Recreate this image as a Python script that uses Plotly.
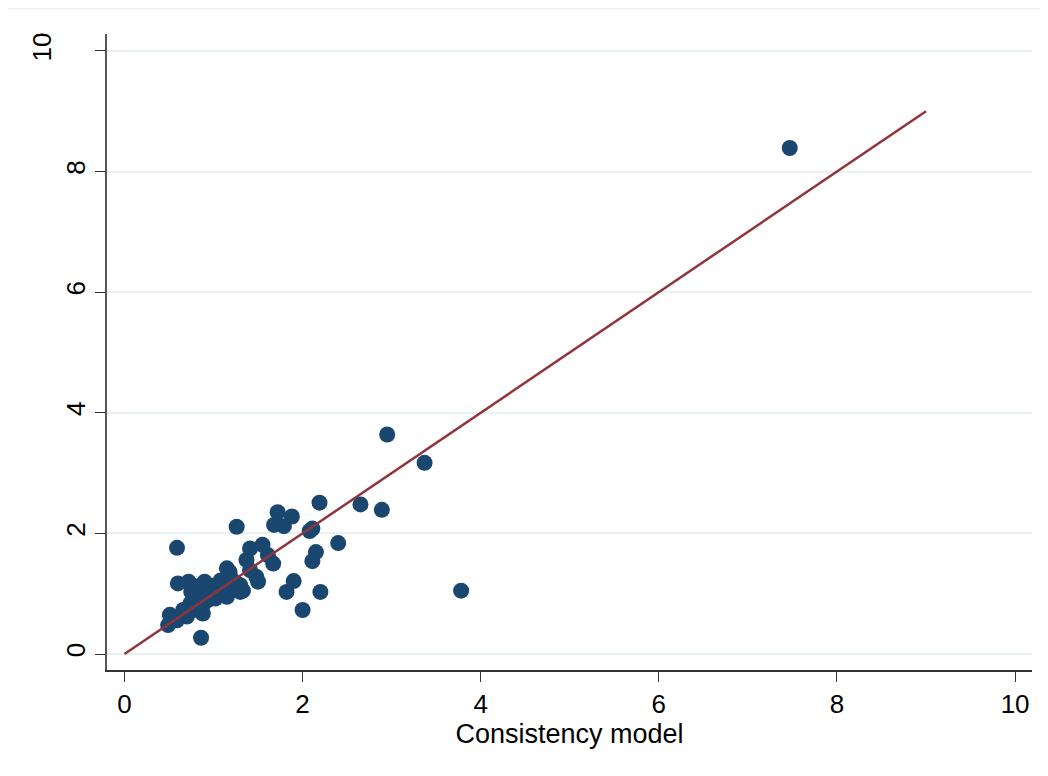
import plotly.graph_objects as go

# Scatter data: (consistency model, other model)
consistency = [
    7.47, 2.95, 3.37, 3.78, 2.65, 2.89, 2.40, 2.19, 2.11, 2.08, 2.15, 2.11,
    2.20, 2.00, 1.90, 1.82, 1.88, 1.79, 1.72, 1.68, 1.26, 0.59, 0.86,
    1.41, 1.55, 1.67, 1.61, 1.37, 1.48, 1.50, 1.41, 1.15, 1.18, 1.26, 1.30,
    0.60, 0.72, 0.90, 0.81, 0.75, 0.85, 0.96, 1.03, 1.09, 0.94, 0.83, 0.74,
    0.66, 0.77, 0.88, 0.51, 0.49, 0.59, 0.70, 1.22, 1.30, 1.15, 1.02, 0.88,
    1.00, 1.10, 0.95, 1.05, 1.20, 0.90, 1.12, 1.27, 1.33, 0.80, 0.98, 1.08,
]
other = [
    8.39, 3.64, 3.17, 1.05, 2.48, 2.39, 1.84, 2.51, 2.08, 2.04, 1.69, 1.54,
    1.03, 0.73, 1.21, 1.03, 2.28, 2.12, 2.35, 2.14, 2.11, 1.76, 0.27,
    1.75, 1.81, 1.50, 1.64, 1.56, 1.28, 1.20, 1.39, 1.42, 1.36, 1.17, 1.03,
    1.17, 1.20, 1.20, 1.12, 1.03, 0.98, 1.06, 1.12, 1.01, 0.90, 0.87, 0.84,
    0.73, 0.73, 0.81, 0.65, 0.48, 0.56, 0.62, 1.06, 1.14, 0.95, 0.92, 0.67,
    1.00, 1.10, 0.95, 1.15, 1.25, 1.05, 0.98, 1.08, 1.05, 0.95, 1.13, 1.22,
]
line_x = [0, 9]
line_y = [0, 9]
tick_vals = [0, 2, 4, 6, 8, 10]
x_tick_text = ["0", "2", "4", "6", "8", "10"]
y_tick_text = ["0", "2", "4", "6", "8", "10<br> "]
x_title = "Consistency model"

FONT = "Liberation Sans, Arial, sans-serif"

fig = go.Figure()
fig.add_trace(go.Scatter(
    x=consistency, y=other, mode="markers",
    marker=dict(size=16, color="#1A476F", line=dict(width=0)),
    showlegend=False, hoverinfo="x+y",
))
fig.add_trace(go.Scatter(
    x=line_x, y=line_y, mode="lines",
    line=dict(color="#90353B", width=2.5),
    showlegend=False, hoverinfo="skip",
))

fig.update_layout(
    width=1040, height=768,
    margin=dict(l=99, r=16, t=26, b=106),
    paper_bgcolor="white", plot_bgcolor="white",
    font=dict(family=FONT, color="black", size=26),
    xaxis=dict(
        range=[-0.196, 10.19], tickvals=tick_vals, ticktext=x_tick_text,
        automargin=False, showgrid=False, zeroline=False,
        showline=True, linecolor="#333333", linewidth=1.5,
        ticks="outside", ticklen=10, tickwidth=1.2, tickcolor="#333333",
        tickfont=dict(size=26),
        title=dict(text=x_title, font=dict(size=27), standoff=0),
    ),
    yaxis=dict(
        range=[-0.265, 10.28], tickvals=tick_vals, ticktext=y_tick_text,
        automargin=False,
        showgrid=True, gridcolor="#EAF2F3", gridwidth=2,
        zeroline=False,
        showline=True, linecolor="#555555", linewidth=1.5,
        ticks="outside", ticklen=10, tickwidth=1.2, tickcolor="#333333",
        tickangle=-90, tickfont=dict(size=26), ticklabelstandoff=0,
    ),
    shapes=[dict(
        type="line", xref="paper", yref="paper",
        x0=-0.112, x1=1.0086, y0=1.04, y1=1.04,
        line=dict(color="#EAF2F3", width=2),
    )],
)

fig.write_html("out.html")
